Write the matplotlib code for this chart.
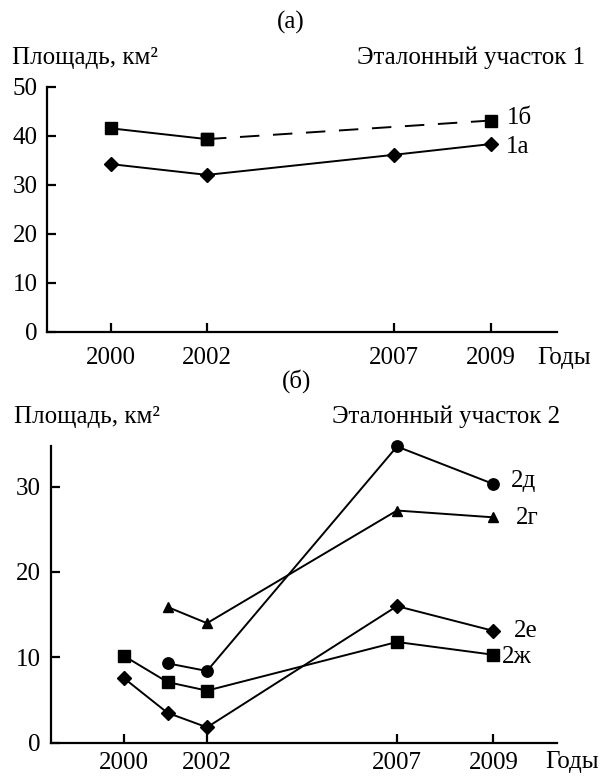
import numpy as np
import matplotlib
matplotlib.use("Agg")
from matplotlib import pyplot as plt

# panel (а): эталонный участок 1
years_1a = [2000, 2002, 2007, 2009]
area_1a = [34.2, 32.0, 36.1, 38.3]
years_1b = [2000, 2002, 2009]
area_1b = [41.5, 39.3, 43.1]

# panel (б): эталонный участок 2
years_2d = [2001, 2002, 2007, 2009]
area_2d = [9.3, 8.4, 34.7, 30.3]
years_2g = [2001, 2002, 2007, 2009]
area_2g = [15.9, 14.0, 27.2, 26.4]
years_2e = [2000, 2001, 2002, 2007, 2009]
area_2e = [7.6, 3.5, 1.8, 16.0, 13.1]
years_2zh = [2000, 2001, 2002, 2007, 2009]
area_2zh = [10.2, 7.1, 6.1, 11.8, 10.3]

tick_years = [2000, 2002, 2007, 2009]

W, H = 603, 778
plt.rcParams['font.family'] = ['Liberation Serif', 'DejaVu Serif']
plt.rcParams['font.size'] = 18

fig = plt.figure(figsize=(W / 100, H / 100), dpi=100)


def px_axes(left, top, right, bottom):
    return fig.add_axes([left / W, 1 - bottom / H, (right - left) / W, (bottom - top) / H])


def year_scale(ax, anchor_years, anchor_px, left_px, right_px):
    # the original x axis is not uniform in time, so use a piecewise scale
    yrs = np.array(anchor_years, float)
    px = np.array(anchor_px, float)
    s0 = (px[1] - px[0]) / (yrs[1] - yrs[0])
    s1 = (px[-1] - px[-2]) / (yrs[-1] - yrs[-2])
    yrs = np.concatenate([[yrs[0] - 20], yrs, [yrs[-1] + 20]])
    px = np.concatenate([[px[0] - 20 * s0], px, [px[-1] + 20 * s1]])
    fwd = lambda y: np.interp(y, yrs, px)
    inv = lambda u: np.interp(u, px, yrs)
    ax.set_xscale('function', functions=(fwd, inv))
    ax.set_xlim(inv(left_px), inv(right_px))


def style(ax, xpad):
    for s in ['top', 'right']:
        ax.spines[s].set_visible(False)
    for s in ['left', 'bottom']:
        ax.spines[s].set_linewidth(1.6)
    ax.tick_params(direction='in', length=6.5, width=1.6, labelsize=18)
    ax.tick_params(axis='y', pad=7)
    ax.tick_params(axis='x', pad=xpad)
    ax.set_xticks(tick_years)
    ax.set_xticklabels([str(y) for y in tick_years])
    ax.minorticks_off()


lw = 1.4
mk = dict(color='black', markeredgecolor='black', clip_on=False)

# ---------- (а) ----------
ax1 = px_axes(47.3, 86.7, 556.7, 331.7)
year_scale(ax1, [2000, 2002, 2007, 2009], [111, 207, 394, 491], 47.3, 556.7)
ax1.set_ylim(0, 50)
ax1.set_yticks([0, 10, 20, 30, 40, 50])
style(ax1, 11)

ax1.plot(years_1a, area_1a, marker='D', markersize=7.3, lw=lw, **mk)
ax1.plot(years_1b[:2], area_1b[:2], marker='s', markersize=8, lw=lw, **mk)
ax1.plot(years_1b[1:], area_1b[1:], marker='s', markersize=8, lw=lw,
         dashes=(10, 7), **mk)
ax1.annotate('1б', (years_1b[-1], area_1b[-1]), xytext=(16, 3),
             textcoords='offset pixels', va='center', ha='left')
ax1.annotate('1а', (years_1a[-1], area_1a[-1]), xytext=(15, -3),
             textcoords='offset pixels', va='center', ha='left')

fig.text(291 / W, 1 - 22 / H, '(а)', ha='center', va='center')
fig.text(12 / W, 1 - 58 / H, 'Площадь, км²', ha='left', va='center')
fig.text(585 / W, 1 - 58 / H, 'Эталонный участок 1', ha='right', va='center')
fig.text(537 / W, 1 - 358 / H, 'Годы', ha='left', va='center')

# ---------- (б) ----------
ax2 = px_axes(50.7, 446.5, 556.7, 742.7)
year_scale(ax2, [2000, 2001, 2002, 2007, 2009], [123.5, 167.5, 207, 397, 493.5],
           50.7, 556.7)
ax2.set_ylim(0, 34.7)
ax2.set_yticks([0, 10, 20, 30])
style(ax2, 6.5)

ax2.plot(years_2d, area_2d, marker='o', markersize=8.2, lw=lw, **mk)
ax2.plot(years_2g, area_2g, marker='^', markersize=7.8, lw=lw, **mk)
ax2.plot(years_2e, area_2e, marker='D', markersize=7.3, lw=lw, **mk)
ax2.plot(years_2zh, area_2zh, marker='s', markersize=8, lw=lw, **mk)

ax2.annotate('2д', (years_2d[-1], area_2d[-1]), xytext=(17, 3),
             textcoords='offset pixels', va='center', ha='left')
ax2.annotate('2г', (years_2g[-1], area_2g[-1]), xytext=(22, -1),
             textcoords='offset pixels', va='center', ha='left')
ax2.annotate('2е', (years_2e[-1], area_2e[-1]), xytext=(20, 0),
             textcoords='offset pixels', va='center', ha='left')
ax2.annotate('2ж', (years_2zh[-1], area_2zh[-1]), xytext=(8, -2),
             textcoords='offset pixels', va='center', ha='left')

fig.text(297 / W, 1 - 381 / H, '(б)', ha='center', va='center')
fig.text(14 / W, 1 - 417 / H, 'Площадь, км²', ha='left', va='center')
fig.text(560 / W, 1 - 417 / H, 'Эталонный участок 2', ha='right', va='center')
fig.text(545 / W, 1 - 762 / H, 'Годы', ha='left', va='center')

fig.savefig('out.png', dpi=100)
